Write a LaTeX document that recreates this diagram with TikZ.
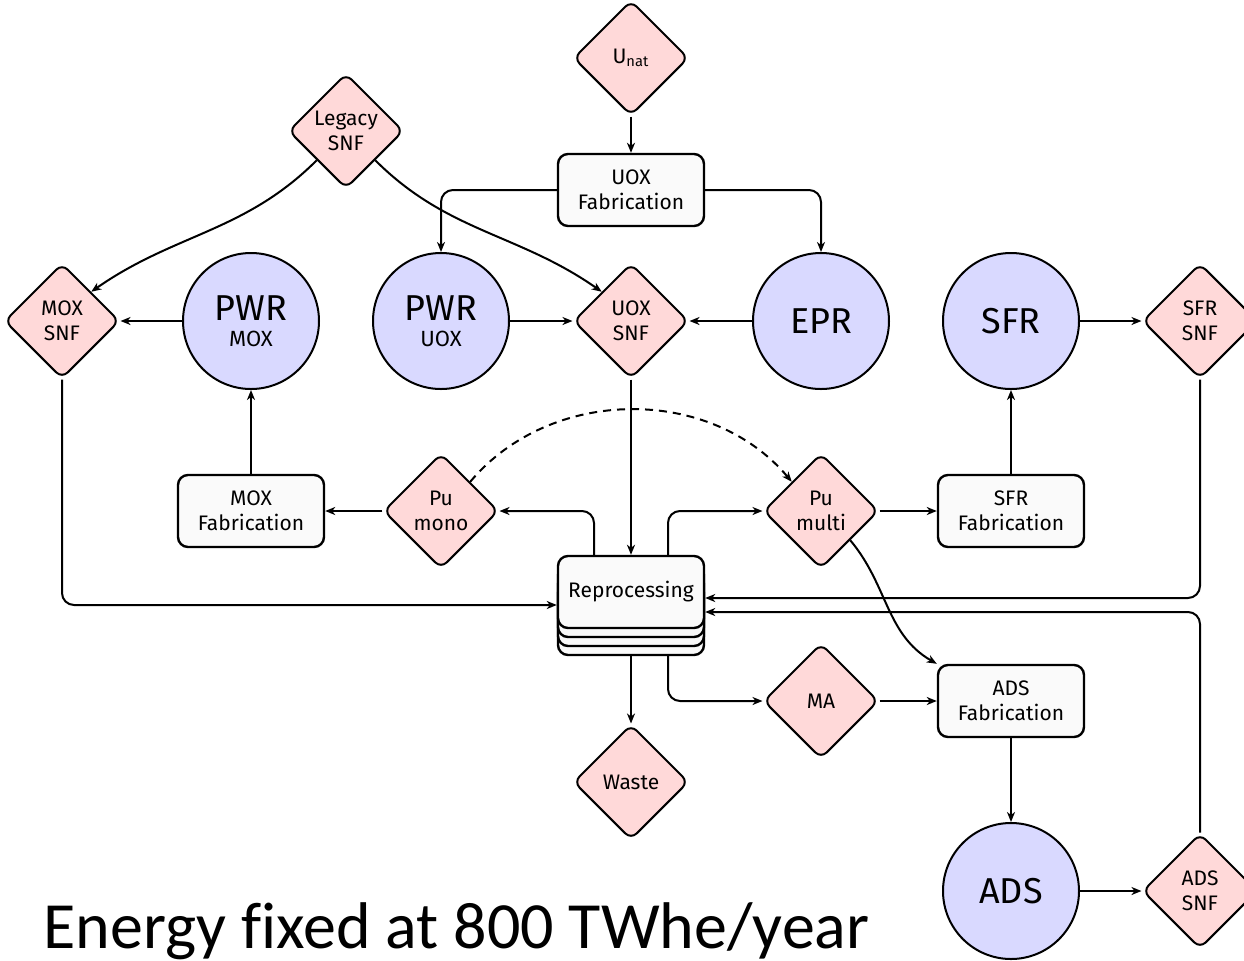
\documentclass[tikz,border=0pt]{standalone}
\usepackage{fontspec}
\setmainfont{Fira Sans}
\newfontfamily\titlefont[Ligatures=NoCommon]{Carlito}
\usetikzlibrary{shapes.geometric,arrows.meta}
\definecolor{dpink}{RGB}{255,217,217}
\definecolor{clav}{RGB}{217,217,255}
\definecolor{boxfill}{RGB}{250,250,250}
\begin{document}
\begin{tikzpicture}[x=0.5pt,y=-0.5pt,
  dmd/.style={diamond, aspect=1, draw, line width=1pt, fill=dpink, rounded corners=4pt,
    minimum size=57.5pt, inner sep=0pt, align=center, font=\fontsize{10.5}{12.5}\selectfont},
  fab/.style={rectangle, draw, line width=1.2pt, fill=boxfill, rounded corners=5pt,
    minimum width=73pt, minimum height=36pt, inner sep=0pt, align=center, font=\fontsize{10.5}{12.5}\selectfont},
  reac/.style={circle, draw, line width=1pt, fill=clav, minimum size=68pt, inner sep=0pt,
    align=center, font=\fontsize{18}{20}\selectfont},
  conn/.style={line width=1pt, -{Stealth[length=5pt,width=4pt,inset=1.5pt]}, rounded corners=6pt},
]
\useasboundingbox (0,0) rectangle (1244,960);
% nodes
\node[dmd] (unat) at (631,58) {U\textsubscript{nat}};
\node[fab] (uoxfab) at (631,190) {UOX\\Fabrication};
\node[dmd] (legacy) at (346,131) {Legacy\\SNF};
\node[dmd] (moxsnf) at (62,321) {MOX\\SNF};
\node[reac] (pwrmox) at (251,321) {PWR\\[-7pt]{\fontsize{11}{13}\selectfont MOX}};
\node[reac] (pwruox) at (441,321) {PWR\\[-7pt]{\fontsize{11}{13}\selectfont UOX}};
\node[dmd] (uoxsnf) at (631,321) {UOX\\SNF};
\node[reac] (epr) at (821,321) {EPR};
\node[reac] (sfr) at (1011,321) {SFR};
\node[dmd] (sfrsnf) at (1200,321) {SFR\\SNF};
\node[fab] (moxfab) at (251,511) {MOX\\Fabrication};
\node[dmd] (pumono) at (441,511) {Pu\\mono};
\node[dmd] (pumulti) at (821,511) {Pu\\multi};
\node[fab] (sfrfab) at (1011,511) {SFR\\Fabrication};
\node[fab] at (631,619) {};
\node[fab] at (631,610) {};
\node[fab] at (631,601) {};
\node[fab] (repro) at (631,592) {Reprocessing};
\coordinate (reprobot) at (631,655);
\node[dmd] (ma) at (821,701) {MA};
\node[fab] (adsfab) at (1011,701) {ADS\\Fabrication};
\node[dmd] (waste) at (631,782) {Waste};
\node[reac] (ads) at (1011,891) {ADS};
\node[dmd] (adssnf) at (1200,891) {ADS\\SNF};
\node[anchor=base west, inner sep=0pt, font=\titlefont\fontsize{33}{34}\selectfont] (title) at (43,948) {Energy fixed at 800 TWhe/year};
% connectors
\draw[conn] (unat) -- (uoxfab);
\draw[conn] (uoxfab.west) -| (pwruox.north);
\draw[conn] (uoxfab.east) -| (epr.north);
\draw[conn] (legacy.south west) to[out=-135,in=35] (moxsnf.north east);
\draw[conn] (legacy.south east) to[out=-45,in=145] (uoxsnf.north west);
\draw[conn] (pwrmox) -- (moxsnf);
\draw[conn] (pwruox) -- (uoxsnf);
\draw[conn] (epr) -- (uoxsnf);
\draw[conn] (sfr) -- (sfrsnf);
\draw[conn] (uoxsnf) -- (repro);
\draw[conn] (moxfab) -- (pwrmox);
\draw[conn] (pumono) -- (moxfab);
\draw[conn] ([xshift=-18.5pt]repro.north) |- (pumono.east);
\draw[conn] ([xshift=18.5pt]repro.north) |- (pumulti.west);
\draw[conn] (pumulti) -- (sfrfab);
\draw[conn] (sfrfab) -- (sfr);
\draw[conn, dashed, dash pattern=on 4pt off 3pt] (pumono.north east) to[out=50,in=130] (pumulti.north west);
\draw[conn] (pumulti.south east) to[out=-50,in=150] (adsfab.north west);
\draw[conn] (moxsnf.south) |- ([yshift=-6.5pt]repro.west);
\draw[conn] (sfrsnf.south) |- ([yshift=-3pt]repro.east);
\draw[conn] (adssnf.north) |- ([yshift=-10pt]repro.east);
\draw[conn] (reprobot) -- (waste);
\draw[conn] ([xshift=18.5pt]reprobot) |- (ma.west);
\draw[conn] (ma) -- (adsfab);
\draw[conn] (adsfab) -- (ads);
\draw[conn] (ads) -- (adssnf);
\end{tikzpicture}
\end{document}
